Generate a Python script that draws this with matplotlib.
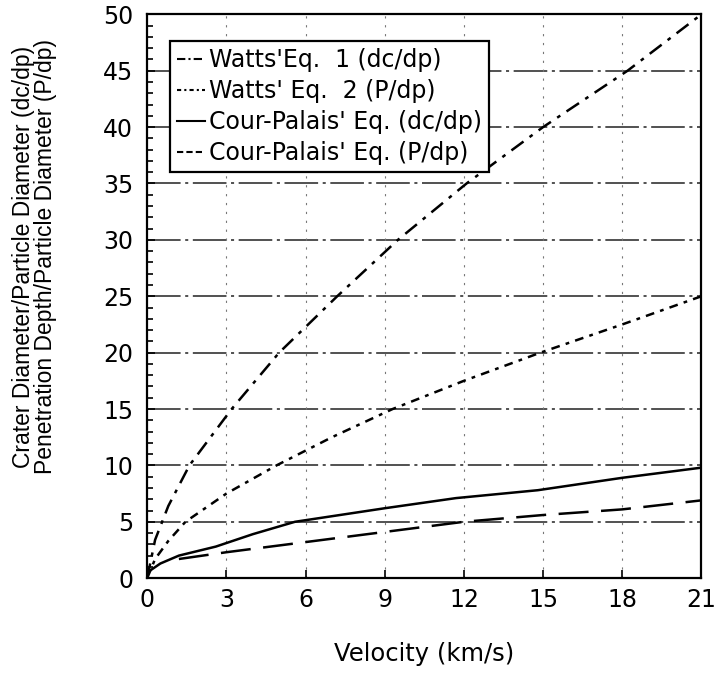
import matplotlib
matplotlib.use("Agg")
import matplotlib.pyplot as plt
from matplotlib.lines import Line2D
from matplotlib.ticker import MultipleLocator

plt.rcParams['font.family'] = ['DejaVu Sans']

# values
watts1_v = [0.0, 0.3, 0.8, 1.6, 3.2, 5.0, 7.2, 9.5, 12.1, 15.0, 18.2, 21.0]
watts1_r = [0.0, 3.4, 6.4, 10.0, 15.0, 20.0, 25.0, 30.0, 35.0, 40.0, 45.0, 50.0]

watts2_v = [0.0, 0.3, 0.8, 1.45, 3.0, 4.9, 7.0, 9.3, 12.0, 14.9, 18.0, 21.0]
watts2_r = [0.0, 1.7, 3.3, 5.0, 7.5, 10.0, 12.5, 15.0, 17.5, 20.0, 22.5, 25.0]

cp_dc_v = [0.0, 0.5, 1.2, 2.6, 4.0, 5.6, 9.0, 11.7, 14.8, 18.0, 21.0]
cp_dc_r = [0.5, 1.3, 2.0, 2.8, 3.9, 5.0, 6.2, 7.1, 7.8, 8.9, 9.8]

cp_p_v = [1.2, 3.0, 6.0, 9.0, 12.0, 15.0, 18.0, 21.0]
cp_p_r = [1.7, 2.3, 3.2, 4.1, 5.0, 5.6, 6.1, 6.9]

labels = ["Watts'Eq.  1 (dc/dp)", "Watts' Eq.  2 (P/dp)",
          "Cour-Palais' Eq. (dc/dp)", "Cour-Palais' Eq. (P/dp)"]

fig = plt.figure(figsize=(7.18, 6.81), dpi=100)
ax = fig.add_axes([0.205, 0.151, 0.772, 0.828])

# grid first so curves sit on top
for yv in range(5, 50, 5):
    ax.axhline(yv, color='#222222', lw=1.1, ls=(0, (22, 3, 2, 3)), zorder=1)
for xv in range(3, 21, 3):
    ax.axvline(xv, color='#777777', lw=0.8, ls=(0, (2, 6)), zorder=1)

ax.plot(watts1_v, watts1_r, color='black', lw=1.8, ls=(0, (6, 3, 1.5, 3)), zorder=3)
ax.plot(watts2_v, watts2_r, color='black', lw=1.8, ls=(0, (3.5, 2.5, 1.5, 2.5)), zorder=3)
ax.plot(cp_dc_v, cp_dc_r, color='black', lw=1.8, ls='-', zorder=3)
ax.plot(cp_p_v, cp_p_r, color='black', lw=1.8, ls=(0, (12, 5)), zorder=3)

ax.set_xlim(0, 21)
ax.set_ylim(0, 50)
ax.xaxis.set_major_locator(MultipleLocator(3))
ax.yaxis.set_major_locator(MultipleLocator(5))
ax.yaxis.set_minor_locator(MultipleLocator(1))
ax.tick_params(axis='both', which='major', direction='in', length=6, width=1.2,
               labelsize=17)
ax.tick_params(axis='x', which='major', pad=7)
ax.tick_params(axis='y', which='major', pad=10)
ax.tick_params(axis='y', which='minor', direction='in', length=4, width=1.2)
for s in ax.spines.values():
    s.set_linewidth(1.6)

ax.set_xlabel("Velocity (km/s)", fontsize=17.5, labelpad=22)
ax.set_ylabel("Crater Diameter/Particle Diameter (dc/dp)\nPenetration Depth/Particle Diameter (P/dp)",
              fontsize=16.5, linespacing=0.95, family='Liberation Sans')
ax.yaxis.set_label_coords(-0.163, 0.57)

# short legend samples, like the typed ones in the original
handles = [
    Line2D([], [], color='black', lw=1.5, ls=(0, (4, 1.5, 1, 1.5))),
    Line2D([], [], color='black', lw=1.5, ls=(0, (2, 1.5, 1, 1.5))),
    Line2D([], [], color='black', lw=1.5, ls='-'),
    Line2D([], [], color='black', lw=1.5, ls=(0, (3, 1.5))),
]
leg = ax.legend(handles, labels, loc='upper left', bbox_to_anchor=(0.041, 0.953),
                fontsize=17, handlelength=1.2, handletextpad=0.15, borderpad=0.3,
                labelspacing=0.3, fancybox=False, framealpha=1,
                edgecolor='black', borderaxespad=0)
leg.get_frame().set_linewidth(1.6)
leg.set_zorder(5)

fig.savefig("out.png", dpi=100)
